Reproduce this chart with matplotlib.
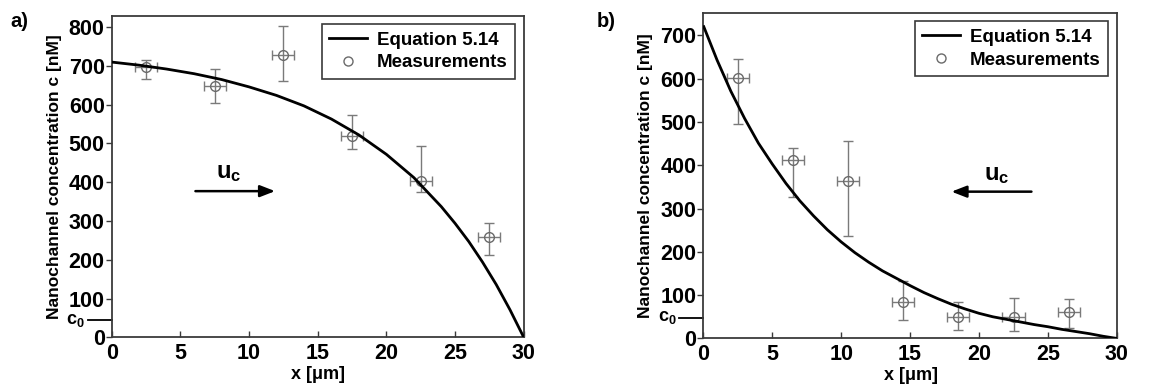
import matplotlib
matplotlib.use("Agg")
import matplotlib.pyplot as plt
from matplotlib.lines import Line2D

plt.rcParams['font.family'] = ['Liberation Sans', 'DejaVu Sans']
plt.rcParams['font.weight'] = 'bold'
plt.rcParams['mathtext.fontset'] = 'custom'
plt.rcParams['mathtext.rm'] = 'Liberation Sans:bold'
plt.rcParams['mathtext.bf'] = 'Liberation Sans:bold'
plt.rcParams['mathtext.it'] = 'Liberation Sans:bold'

# ---- panel a: flow towards x = 30 um ----
a_curve_x = [0, 2, 4, 6, 8, 10, 12, 14, 16, 18, 20, 22, 24, 25, 26, 27, 28, 29, 30]
a_curve_c = [710, 702, 692, 680, 665, 646, 624, 597, 563, 522, 472, 412, 337, 294, 247, 194, 136, 71, 0]
a_meas_x = [2.5, 7.5, 12.5, 17.5, 22.5, 27.5]
a_meas_c = [697, 647, 727, 518, 404, 259]
a_meas_hi = [716, 691, 804, 574, 494, 294]
a_meas_lo = [666, 605, 661, 485, 375, 212]
a_c0 = 44

# ---- panel b: flow towards x = 0 ----
b_curve_x = [0, 1, 2, 3, 4, 5, 6, 7, 8, 9, 10, 11, 12, 13, 14, 15, 16, 17, 18,
             19, 20, 21, 22, 23, 24, 25, 26, 27, 28, 29, 30]
b_curve_c = [723, 643, 571, 508, 451, 403, 358, 318, 283, 251, 223, 198, 176, 156,
             139, 122, 106, 92, 79, 68, 58, 50, 44, 38, 32, 27, 21, 16, 11, 5, 0]
b_meas_x = [2.5, 6.5, 10.5, 14.5, 18.5, 22.5, 26.5]
b_meas_c = [602, 413, 364, 85, 50, 50, 60]
b_meas_hi = [646, 440, 456, 133, 85, 93, 90]
b_meas_lo = [495, 326, 236, 42, 19, 17, 23]
b_c0 = 48

x_err = 0.8
x_ticks = [0, 5, 10, 15, 20, 25, 30]

fig = plt.figure(figsize=(11.51, 3.89), dpi=100)
ax_a = fig.add_axes([0.097, 0.133, 0.358, 0.827])
ax_b = fig.add_axes([0.611, 0.130, 0.3594, 0.837])

spine_col = '#3a3a3a'
err_col = '#7a7a7a'


def draw_panel(ax, cx, cc, mx, mc, mhi, mlo, c0, ylim, yticks,
               arrow_from, arrow_to, uc_pos):
    ax.plot(cx, cc, color='black', lw=2.0, solid_capstyle='butt', zorder=3)
    yerr = [[m - lo for m, lo in zip(mc, mlo)], [hi - m for m, hi in zip(mc, mhi)]]
    ax.errorbar(mx, mc, yerr=yerr, xerr=x_err, fmt='o', ms=7, mfc='none',
                mec='#6a6a6a', mew=1.0, ecolor=err_col, elinewidth=1.0,
                capsize=3.5, capthick=1.0, zorder=2)
    ax.set_xlim(0, 30)
    ax.set_ylim(*ylim)
    ax.set_xticks(x_ticks)
    ax.set_yticks(yticks)
    ax.tick_params(axis='x', direction='in', length=4, width=1, color=spine_col,
                   labelsize=15.5, pad=4)
    ax.tick_params(axis='y', direction='out', length=4, width=1, color=spine_col,
                   labelsize=15.5, pad=1)
    for lbl in ax.get_xticklabels() + ax.get_yticklabels():
        lbl.set_fontweight('bold')
    for sp in ax.spines.values():
        sp.set_color(spine_col)
        sp.set_linewidth(1.3)
    ax.set_xlabel(r'x [$\mathbf{\mu}$m]', fontsize=13, fontweight='bold', labelpad=0)
    ax.set_ylabel('Nanochannel concentration c [nM]', fontsize=12.5,
                  fontweight='bold', labelpad=5)

    # c0 marker drawn just outside the left spine
    ax.plot([-1.75, 0], [c0, c0], color='black', lw=1.3, clip_on=False,
            transform=ax.transData)
    ax.text(-1.95, c0, r'$\mathbf{c}_{\mathbf{0}}$', ha='right', va='center',
            fontsize=13, clip_on=False)

    # convective velocity arrow
    ax.annotate('', xy=(arrow_to, arrow_from[1]), xytext=arrow_from,
                arrowprops=dict(arrowstyle='-|>,head_length=0.9,head_width=0.35',
                                color='black', lw=1.8, shrinkA=0, shrinkB=0))
    ax.text(uc_pos[0], uc_pos[1], r'$\mathbf{u}_{\mathbf{c}}$', ha='center',
            va='center', fontsize=17)

    handles = [Line2D([], [], color='black', lw=2.0),
               Line2D([], [], ls='none', marker='o', ms=6.5, mfc='none',
                      mec='#6a6a6a', mew=1.0)]
    leg = ax.legend(handles, ['Equation 5.14', 'Measurements'], loc='upper right',
                    prop={'weight': 'bold', 'size': 13.5},
                    fancybox=False, framealpha=1, edgecolor=spine_col,
                    handlelength=2.0, borderaxespad=0.45, borderpad=0.4,
                    labelspacing=0.3, handletextpad=0.55)
    leg.get_frame().set_linewidth(1.2)


draw_panel(ax_a, a_curve_x, a_curve_c, a_meas_x, a_meas_c, a_meas_hi, a_meas_lo,
           a_c0, (0, 830), [0, 100, 200, 300, 400, 500, 600, 700, 800],
           (6.1, 377), 11.9, (8.5, 424))
draw_panel(ax_b, b_curve_x, b_curve_c, b_meas_x, b_meas_c, b_meas_hi, b_meas_lo,
           b_c0, (0, 752), [0, 100, 200, 300, 400, 500, 600, 700],
           (23.8, 339), 18.0, (21.3, 378))

fig.text(0.009, 0.97, 'a)', fontsize=14.5, fontweight='bold', va='top')
fig.text(0.518, 0.97, 'b)', fontsize=14.5, fontweight='bold', va='top')

fig.savefig('out.png', dpi=100, facecolor='white')
